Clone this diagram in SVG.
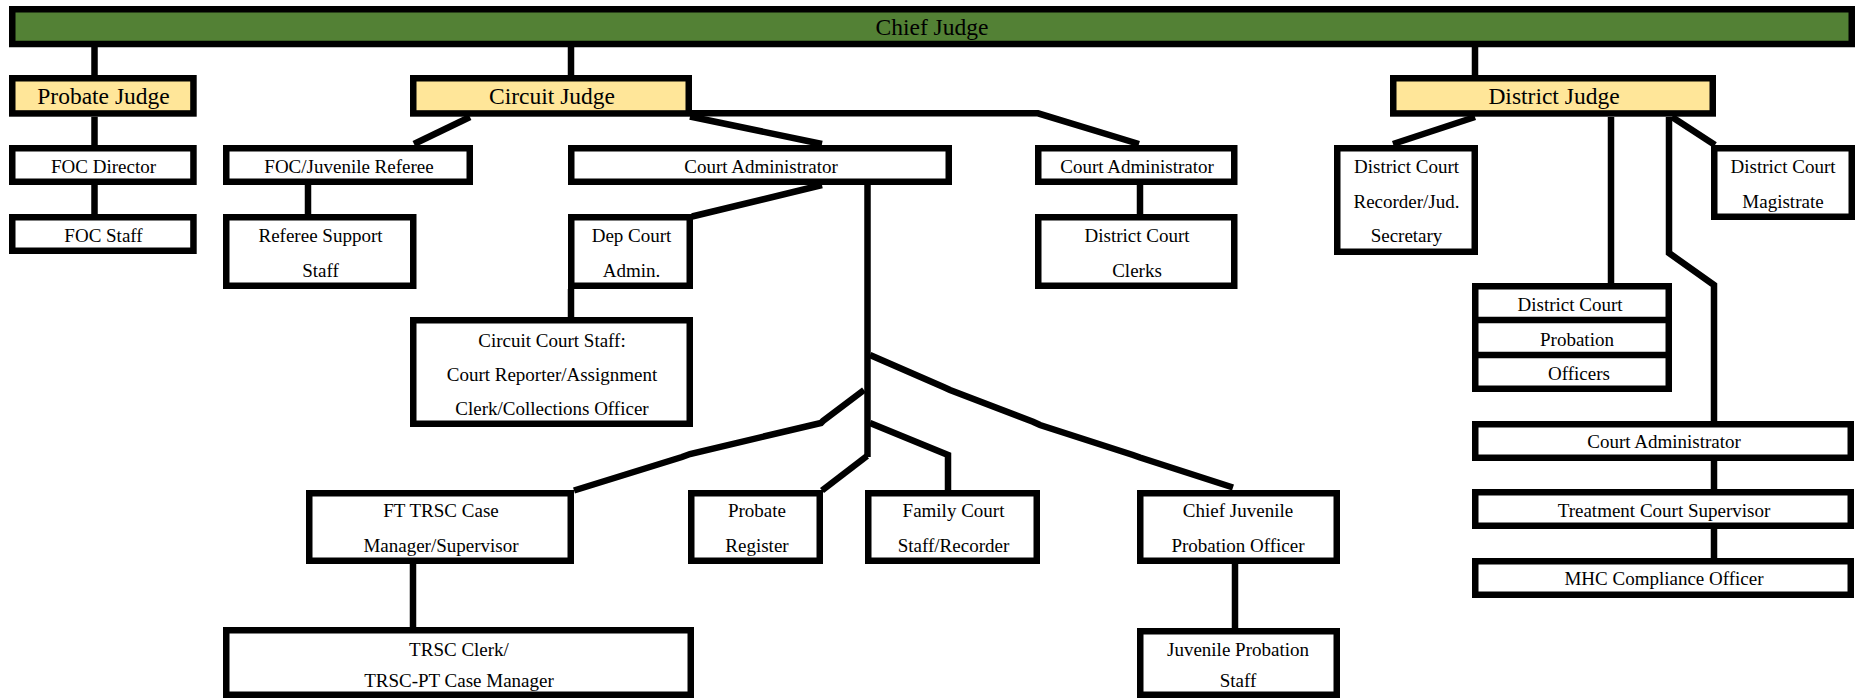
<svg xmlns="http://www.w3.org/2000/svg" width="1860" height="699" viewBox="0 0 1860 699">
<style>
.b{fill:#ffffff;stroke:#000;stroke-width:6.5}
.y{fill:#FFE699;stroke:#000;stroke-width:6.5}
.g{fill:#538135;stroke:#000;stroke-width:6.5}
.c{fill:none;stroke:#000;stroke-width:6.5;stroke-linejoin:miter;stroke-linecap:butt}
text{font-family:"Liberation Serif","Times New Roman",serif;fill:#000;text-anchor:middle}
.h{font-size:23.5px}
.t{font-size:19px}
</style>
<rect width="1860" height="699" fill="#ffffff"/>
<g id="connectors">
<path class="c" d="M94.5,47V75M571,47V75M1475,47V75"/>
<path class="c" d="M94.5,116.7V145M94.5,185V214"/>
<path class="c" d="M470,117L414,144"/>
<path class="c" d="M690,116.5L822,144"/>
<path class="c" d="M690,113.3H1038L1139,144"/>
<path class="c" d="M308,185V214"/>
<path class="c" d="M822,185L692,216.5"/>
<path class="c" d="M571,289V317"/>
<path class="c" d="M1140,185V214"/>
<path class="c" d="M867.5,185V457"/>
<path class="c" d="M870,355L943.5,387L950,390L1033,421.7L1040,425L1133,455L1140,457.5L1233,487.5"/>
<path class="c" d="M864,390L823,421L821,423L690,454L682,457L574,490.5"/>
<path class="c" d="M870,423L948,455V490"/>
<path class="c" d="M867,456L822,490.5"/>
<path class="c" d="M413,564V627"/>
<path class="c" d="M1235,564V628"/>
<path class="c" d="M1475,117L1393,144"/>
<path class="c" d="M1672,117L1715,145"/>
<path class="c" d="M1611,117V283"/>
<path class="c" d="M1669,117V253L1714,285V421"/>
<path class="c" d="M1714,461V489M1714,529V558"/>
</g>
<g id="chief-judge"><rect class="g" x="12.25" y="9.25" width="1839.5" height="34.75"/><text class="h" x="932" y="34.5">Chief Judge</text></g>
<g id="probate-judge"><rect class="y" x="12.25" y="78.25" width="181.2" height="35.2"/><text class="h" x="103.5" y="103.5">Probate Judge</text></g>
<g id="circuit-judge"><rect class="y" x="413.25" y="78.25" width="275.5" height="35.2"/><text class="h" x="552" y="103.5">Circuit Judge</text></g>
<g id="district-judge"><rect class="y" x="1393.25" y="78.25" width="319.5" height="35.2"/><text class="h" x="1554" y="103.5">District Judge</text></g>
<g id="foc-director"><rect class="b" x="12.25" y="148.25" width="181.2" height="33.5"/><text class="t" x="103.5" y="173">FOC Director</text></g>
<g id="foc-staff"><rect class="b" x="12.25" y="217.25" width="181.2" height="33.5"/><text class="t" x="103.5" y="242">FOC Staff</text></g>
<g id="foc-juvenile-referee"><rect class="b" x="226.25" y="148.25" width="243.5" height="33.5"/><text class="t" x="349" y="173">FOC/Juvenile Referee</text></g>
<g id="referee-support-staff"><rect class="b" x="226.25" y="217.25" width="187" height="68.5"/><text class="t" x="320.5" y="242">Referee Support</text><text class="t" x="320.5" y="276.5">Staff</text></g>
<g id="court-administrator-circuit"><rect class="b" x="571.25" y="148.25" width="377.5" height="33.5"/><text class="t" x="761" y="173">Court Administrator</text></g>
<g id="court-administrator-district-1"><rect class="b" x="1038.25" y="148.25" width="196" height="33.5"/><text class="t" x="1137" y="173">Court Administrator</text></g>
<g id="district-court-clerks"><rect class="b" x="1038.25" y="217.25" width="196" height="68.5"/><text class="t" x="1137" y="242">District Court</text><text class="t" x="1137" y="276.5">Clerks</text></g>
<g id="dep-court-admin"><rect class="b" x="571.25" y="217.25" width="118.5" height="68.5"/><text class="t" x="631.5" y="242">Dep Court</text><text class="t" x="631.5" y="276.5">Admin.</text></g>
<g id="circuit-court-staff"><rect class="b" x="413.25" y="320.25" width="276.5" height="103.5"/><text class="t" x="552" y="346.5">Circuit Court Staff:</text><text class="t" x="552" y="380.5">Court Reporter/Assignment</text><text class="t" x="552" y="414.5">Clerk/Collections Officer</text></g>
<g id="ft-trsc"><rect class="b" x="309.25" y="493.25" width="261.5" height="67.5"/><text class="t" x="441" y="517">FT TRSC Case</text><text class="t" x="441" y="551.5">Manager/Supervisor</text></g>
<g id="probate-register"><rect class="b" x="691.25" y="493.25" width="128.5" height="67.5"/><text class="t" x="757" y="517">Probate</text><text class="t" x="757" y="551.5">Register</text></g>
<g id="family-court-staff"><rect class="b" x="868.25" y="493.25" width="168.5" height="67.5"/><text class="t" x="953.5" y="517">Family Court</text><text class="t" x="953.5" y="551.5">Staff/Recorder</text></g>
<g id="chief-juvenile-probation-officer"><rect class="b" x="1140.25" y="493.25" width="196.5" height="67.5"/><text class="t" x="1238" y="517">Chief Juvenile</text><text class="t" x="1238" y="551.5">Probation Officer</text></g>
<g id="juvenile-probation-staff"><rect class="b" x="1140.25" y="631.25" width="196.5" height="63.5"/><text class="t" x="1238" y="656">Juvenile Probation</text><text class="t" x="1238" y="686.5">Staff</text></g>
<g id="trsc-clerk"><rect class="b" x="226.25" y="630.25" width="464.5" height="64.5"/><text class="t" x="459" y="656">TRSC Clerk/</text><text class="t" x="459" y="686.5">TRSC-PT Case Manager</text></g>
<g id="district-court-recorder"><rect class="b" x="1337.25" y="148.25" width="137.5" height="103.5"/><text class="t" x="1406.5" y="173">District Court</text><text class="t" x="1406.5" y="207.5">Recorder/Jud.</text><text class="t" x="1406.5" y="242">Secretary</text></g>
<g id="district-court-magistrate"><rect class="b" x="1714.25" y="148.25" width="137.5" height="68.5"/><text class="t" x="1783" y="173">District Court</text><text class="t" x="1783" y="207.5">Magistrate</text></g>
<g id="district-court-probation-officers"><rect class="b" x="1475.25" y="286.25" width="193.5" height="102.5"/><path class="c" d="M1472,320H1672M1472,355H1672"/><text class="t" x="1570" y="310.5">District Court</text><text class="t" x="1577" y="346">Probation</text><text class="t" x="1579" y="380">Officers</text></g>
<g id="court-administrator-district-2"><rect class="b" x="1475.25" y="424.25" width="375.5" height="33.5"/><text class="t" x="1664" y="448">Court Administrator</text></g>
<g id="treatment-court-supervisor"><rect class="b" x="1475.25" y="492.25" width="375.5" height="33.5"/><text class="t" x="1664" y="516.5">Treatment Court Supervisor</text></g>
<g id="mhc-compliance-officer"><rect class="b" x="1475.25" y="561.25" width="375.5" height="33.5"/><text class="t" x="1664" y="585">MHC Compliance Officer</text></g>
</svg>
